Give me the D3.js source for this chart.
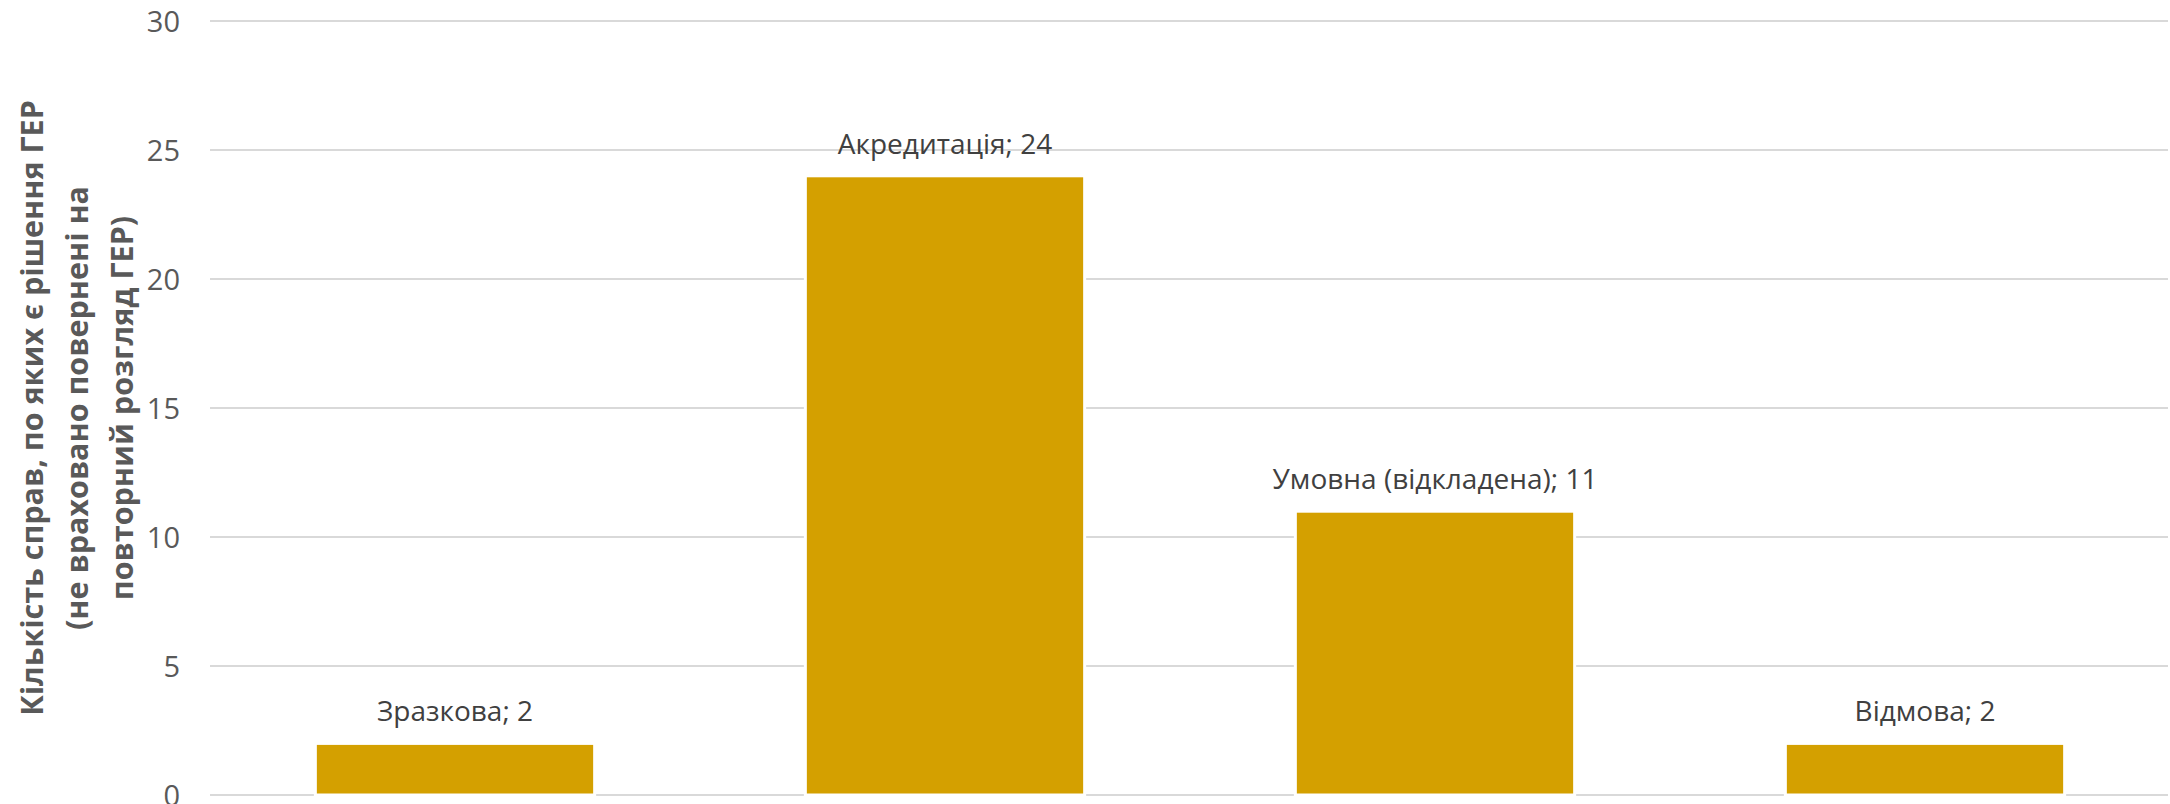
<!DOCTYPE html>
<html>
<head>
<meta charset="utf-8">
<script src="https://cdn.jsdelivr.net/npm/d3@7"></script>
<style>
    body { margin: 0; background: #fff; }
    text { font-family: "Open Sans", "Noto Sans", sans-serif; }
</style>
</head>
<body>
<div id="chart"></div>
<script>
const categories = ['Зразкова', 'Акредитація', 'Умовна (відкладена)', 'Відмова'];
const values = [2, 24, 11, 2];
const yTicks = [0, 5, 10, 15, 20, 25, 30];
const titleLines = [
    'Кількість справ, по яких є рішення ГЕР',
    '(не враховано повернені на',
    'повторний розгляд ГЕР)'
];

const width = 2170;
const height = 804;
const plot = { left: 210, right: 2170, top: 21, bottom: 795 };

const svg = d3.select('#chart')
    .append('svg')
    .attr('width', width)
    .attr('height', height);

const x = d3.scaleBand()
    .domain(categories)
    .range([plot.left, plot.right])
    .paddingInner(0.43)
    .paddingOuter(0.215);

const y = d3.scaleLinear()
    .domain([0, 30])
    .range([plot.bottom, plot.top]);

// gridlines
svg.append('g')
    .selectAll('line')
    .data(yTicks)
    .enter()
    .append('line')
    .attr('x1', plot.left)
    .attr('x2', plot.right - 2)
    .attr('y1', d => y(d))
    .attr('y2', d => y(d))
    .attr('stroke', '#d9d9d9')
    .attr('stroke-width', 2);

// y axis labels
const yAxis = svg.append('g')
    .attr('transform', `translate(${plot.left - 30},0)`)
    .call(d3.axisLeft(y).tickValues(yTicks).tickSize(0).tickPadding(0));
yAxis.select('.domain').remove();
yAxis.selectAll('text')
    .attr('font-size', 29)
    .attr('fill', '#595959')
    .attr('dy', '0.36em')
    .style('font-family', '"Open Sans", "Noto Sans", sans-serif');

// bars
svg.append('g')
    .selectAll('rect')
    .data(values)
    .enter()
    .append('rect')
    .attr('x', (d, i) => x(categories[i]))
    .attr('y', d => y(d))
    .attr('width', x.bandwidth())
    .attr('height', d => y(0) - y(d))
    .attr('fill', '#d4a000')
    .attr('stroke', '#fff')
    .attr('stroke-width', 3);

// data labels
svg.append('g')
    .selectAll('text')
    .data(values)
    .enter()
    .append('text')
    .attr('x', (d, i) => x(categories[i]) + x.bandwidth() / 2)
    .attr('y', d => y(d) - 22)
    .attr('text-anchor', 'middle')
    .attr('font-size', 28)
    .attr('fill', '#404040')
    .text((d, i) => categories[i] + '; ' + d);

// axis title
const title = svg.append('text')
    .attr('transform', `translate(43,${(plot.top + plot.bottom) / 2}) rotate(-90)`)
    .attr('text-anchor', 'middle')
    .attr('font-size', 30.5)
    .attr('font-weight', 'bold')
    .attr('fill', '#595959');

title.selectAll('tspan')
    .data(titleLines)
    .enter()
    .append('tspan')
    .attr('x', 0)
    .attr('y', (d, i) => i * 45)
    .text(d => d);
</script>
</body>
</html>
